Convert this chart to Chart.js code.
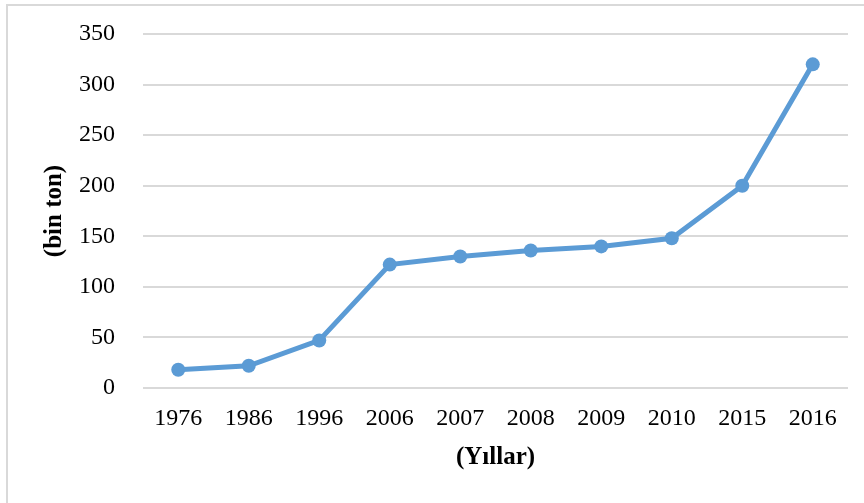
<!DOCTYPE html>
<html>
<head>
<meta charset="utf-8">
<script src="https://cdn.jsdelivr.net/npm/chart.js@4"></script>
<style>
  html, body { margin: 0; padding: 0; background: #fff; }
  #wrap { position: relative; width: 864px; height: 503px; overflow: hidden; }
  #frame { position: absolute; left: 6px; top: 4px; width: 900px; height: 600px;
           border-left: 2px solid #d9d9d9; border-top: 2px solid #d9d9d9; }
  canvas { position: absolute; left: 0; top: 0; }
</style>
</head>
<body>
<div id="wrap">
  <div id="frame"></div>
  <canvas id="myChart" width="864" height="503"></canvas>
</div>
<script>
var years = ['1976', '1986', '1996', '2006', '2007', '2008', '2009', '2010', '2015', '2016'];
var amounts = [18, 22, 47, 122, 130, 136, 140, 148, 200, 320];
var yMin = 0, yMax = 350, yStep = 50;

var blue = '#5B9BD5';
var serif = "'Liberation Serif', 'Times New Roman', serif";

var ctx = document.getElementById('myChart').getContext('2d');

var myChart = new Chart(ctx, {
    type: 'line',
    data: {
        labels: years,
        datasets: [{
            label: 'bin ton',
            data: amounts,
            borderColor: blue,
            backgroundColor: blue,
            borderWidth: 5,
            pointRadius: 7,
            pointHoverRadius: 7,
            pointBackgroundColor: blue,
            pointBorderWidth: 0,
            tension: 0
        }]
    },
    options: {
        responsive: false,
        animation: false,
        layout: { padding: { left: 0, right: 16, top: 34, bottom: 26 } },
        plugins: { legend: { display: false }, tooltip: { enabled: false } },
        scales: {
            x: {
                offset: true,
                grid: { display: false, drawTicks: false },
                border: { display: false },
                ticks: { color: '#000', padding: 16, maxRotation: 0, autoSkip: false,
                         font: { family: serif, size: 24 } },
                title: { display: true, text: '(Yıllar)', color: '#000', padding: { top: 4, bottom: 4 },
                         font: { family: serif, size: 25, weight: 'bold' } },
                afterFit: function (s) { s.height = 89; }
            },
            y: {
                min: yMin, max: yMax,
                grid: { color: '#d9d9d9', lineWidth: 2, drawTicks: false },
                border: { display: false },
                ticks: { stepSize: yStep, color: '#000', padding: 28,
                         font: { family: serif, size: 24 } },
                title: { display: true, text: '(bin ton)', color: '#000', padding: { top: 40, bottom: 0 },
                         font: { family: serif, size: 25, weight: 'bold' } },
                afterFit: function (s) {
                    s.width = 143;
                    s.paddingTop = 0;
                    s.paddingBottom = 0;
                }
            }
        }
    }
});
</script>
</body>
</html>
